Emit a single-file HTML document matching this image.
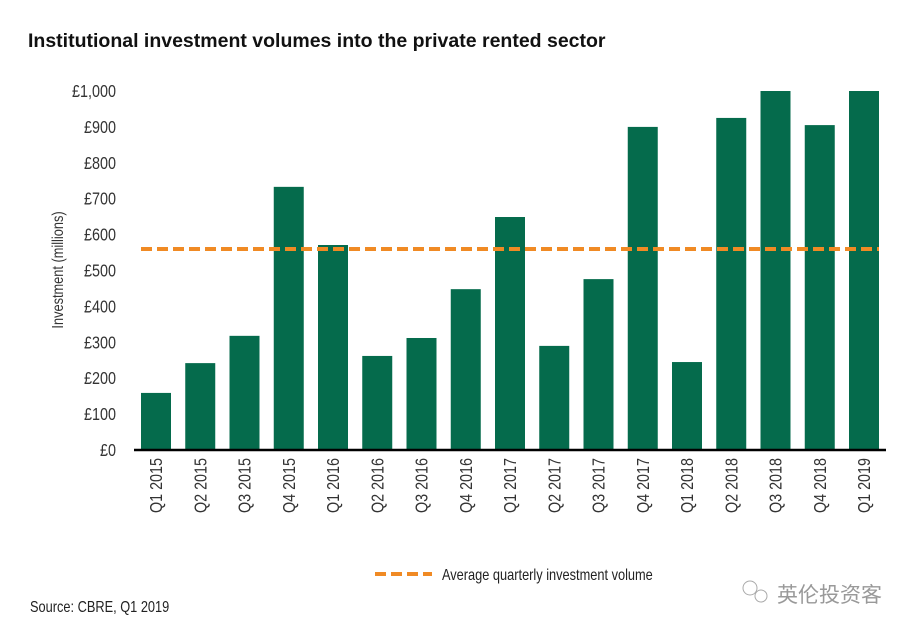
<!DOCTYPE html>
<html><head><meta charset="utf-8"><style>
body{margin:0;background:#fff;width:924px;height:633px;overflow:hidden;font-family:"Liberation Sans",sans-serif}
.t{font-family:"Liberation Sans Narrow","Liberation Sans",sans-serif}
</style></head><body>
<svg width="924" height="633">
<text x="28" y="47" font-size="19.5" font-weight="bold" fill="#111">Institutional investment volumes into the private rented sector</text>
<g id="yt"></g><g id="bars"></g><g id="xl"></g>
<line x1="134" y1="450" x2="886" y2="450" stroke="#000" stroke-width="2.5"/>
<g id="avg"></g>
<text transform="translate(63,270) rotate(-90) scale(0.8,1)" text-anchor="middle" font-size="16" fill="#333" class="t">Investment (millions)</text>
<line x1="375" y1="574" x2="432" y2="574" stroke="#f08a24" stroke-width="4" stroke-dasharray="11,5"/>
<text transform="translate(442,580) scale(0.8,1)" font-size="16" fill="#222" class="t">Average quarterly investment volume</text>
<text transform="translate(30,612) scale(0.8,1)" font-size="16" fill="#222" class="t">Source: CBRE, Q1 2019</text>
<g><circle cx="750" cy="588" r="7" fill="none" stroke="#aaa"/><circle cx="761" cy="596" r="6" fill="none" stroke="#aaa"/>
<text x="777" y="602" font-size="21" fill="#999" font-family="'Noto Sans CJK SC',sans-serif">英伦投资客</text></g>
</svg>
<script>
const categories=["Q1 2015","Q2 2015","Q3 2015","Q4 2015","Q1 2016","Q2 2016","Q3 2016","Q4 2016","Q1 2017","Q2 2017","Q3 2017","Q4 2017","Q1 2018","Q2 2018","Q3 2018","Q4 2018","Q1 2019"];
const values=[159,242,318,733,571,262,312,448,649,290,476,900,245,925,1000,905,1000];
const averageValue=560;
const yTicks=[0,100,200,300,400,500,600,700,800,900,1000];
const yTickLabels=["£0","£100","£200","£300","£400","£500","£600","£700","£800","£900","£1,000"];
const NS="http://www.w3.org/2000/svg";
const y=v=>450-v*0.359;
const x=i=>156+i*44.25;
function mk(t,a,p){const e=document.createElementNS(NS,t);for(const k in a)e.setAttribute(k,a[k]);document.getElementById(p).appendChild(e);return e;}
yTicks.forEach((v,i)=>{const e=mk("text",{transform:`translate(116,${y(v)+6}) scale(0.8,1)`,"text-anchor":"end","font-size":"18",fill:"#333",class:"t"},"yt");e.textContent=yTickLabels[i];

});
values.forEach((v,i)=>{const r=mk("rect",{x:x(i)-15,y:y(v),width:30,height:450-y(v),fill:"#056b4c"},"bars");


const t=mk("text",{transform:`translate(${x(i)+6},458) rotate(-90) scale(0.82,1)`,"text-anchor":"end","font-size":"17.5",fill:"#333",class:"t"},"xl");t.textContent=categories[i];

});
const a=mk("line",{x1:x(0)-15,x2:x(values.length-1)+15,y1:y(averageValue),y2:y(averageValue),stroke:"#f08a24","stroke-width":4,"stroke-dasharray":"11,5"},"avg");


</script>
</body></html>
